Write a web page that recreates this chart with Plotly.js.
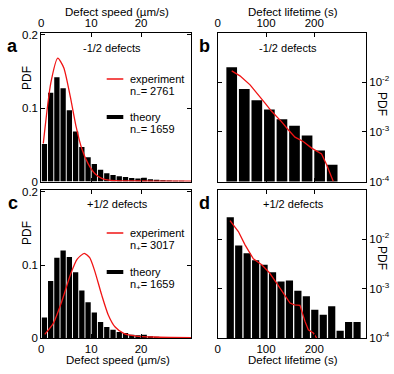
<!DOCTYPE html>
<html>
<head>
<meta charset="utf-8">
<script src="https://cdn.plot.ly/plotly-3.0.1.min.js"></script>
<style>
  body { margin: 0; background: #fff; }
  #chart { width: 394px; height: 374px; }
</style>
</head>
<body>
<div id="chart"></div>
<script>
// speed histograms (bin width 1.25 um/s)
var speedBins = [0.625, 1.875, 3.125, 4.375, 5.625, 6.875, 8.125, 9.375, 10.625, 11.875,
                 13.125, 14.375, 15.625, 16.875, 18.125, 19.375, 20.625, 21.875, 23.125, 24.375,
                 25.625, 26.875, 28.125, 29.375];
var theoryMinusSpeed = [0.051, 0.121, 0.142, 0.127, 0.097, 0.068, 0.047, 0.033, 0.024, 0.016,
                        0.0114, 0.009, 0.0073, 0.006, 0.0046, 0.004, 0.005, 0.0032, 0.0023, 0.0018,
                        0.0014, 0.001, 0.001, 0.0005];
var theoryPlusSpeed = [0.028, 0.078, 0.11, 0.12, 0.111, 0.09, 0.065, 0.049, 0.035, 0.022,
                       0.015, 0.0112, 0.0082, 0.0068, 0.0046, 0.0037, 0.0046, 0.0023, 0.0018, 0.0014,
                       0.001, 0.0008, 0.0006, 0.0004];

var expMinusSpeedX = [0.4, 1.9, 3.3, 4.5, 5.8, 7.0, 8.1, 9.4, 10.7, 12.2, 13.9, 16, 20, 25, 30];
var expMinusSpeedY = [0.052, 0.134, 0.168, 0.155, 0.116, 0.074, 0.045, 0.024, 0.011, 0.004,
                      0.0015, 0.0009, 0.0007, 0.0005, 0.0004];
var expPlusSpeedX = [0.7, 2.4, 4.1, 5.9, 7.2, 8.6, 9.7, 10.7, 12.1, 13.4, 14.8, 16.6, 19, 22.4, 26, 30];
var expPlusSpeedY = [0.005, 0.02, 0.05, 0.088, 0.108, 0.116, 0.11, 0.092, 0.059, 0.032,
                     0.015, 0.006, 0.0027, 0.0014, 0.0009, 0.0006];

// lifetime histograms
var lifeMinusBins = [29, 55, 81, 107, 133, 159, 185, 211, 237];
var theoryMinusLife = [0.020, 0.0073, 0.0043, 0.0028, 0.0018, 0.00132, 0.00084, 0.00042, 0.000217];
var lifePlusBins = [26, 43.5, 61, 78.5, 96, 113.5, 131, 148.5, 166, 183.5, 201, 218.5, 236, 253.5, 271, 288.5];
var theoryPlusLife = [0.0278, 0.00745, 0.0052, 0.00377, 0.00303, 0.00215, 0.0014, 0.00146, 0.0009, 0.0007,
                      0.000373, 0.000296, 0.000437, 0.000141, 0.00021, 0.00021];

var expMinusLifeX = [29, 46, 67, 85.5, 98, 112, 132, 146, 160, 177, 194.5, 215, 225.5, 239.3];
var expMinusLifeY = [0.0169, 0.0134, 0.00884, 0.00514, 0.00377, 0.00256, 0.00161, 0.0011, 0.00078,
                     0.00064, 0.00047, 0.00036, 0.000217, 0.0001];
var expPlusLifeX = [25.5, 42.8, 56.6, 73.8, 91, 106.2, 122, 135.9, 149.7, 158.6, 170.3, 180.7, 187.6, 197.9, 204.8];
var expPlusLifeY = [0.0238, 0.0143, 0.00769, 0.00401, 0.00303, 0.00215, 0.00129, 0.00081, 0.00051,
                    0.00047, 0.000457, 0.000217, 0.000147, 0.000126, 0.0001];

var speedTicks = [0, 10, 20];
var lifeTicks = [0, 100, 200];
var pdfTicks = [0, 0.1, 0.2];
var pdfTickText = ["0", "0.1", "0.2"];
var logTicks = [1e-4, 1e-3, 1e-2];
var logTickText = ["10<sup>-4</sup>", "10<sup>-3</sup>", "10<sup>-2</sup>"];

var W = 394, H = 374;
function px(x) { return x / W; }
function py(y) { return 1 - y / H; }

var red = "#f01414";
var FONT = "Arial, 'Liberation Sans', Helvetica, sans-serif";

var data = [
  {type: "bar", x: speedBins, y: theoryMinusSpeed, xaxis: "x", yaxis: "y", marker: {color: "black"}},
  {type: "scatter", mode: "lines", x: expMinusSpeedX, y: expMinusSpeedY, xaxis: "x", yaxis: "y",
   line: {color: red, width: 1.3, shape: "spline", smoothing: 0.6}},
  {type: "bar", x: lifeMinusBins, y: theoryMinusLife, xaxis: "x2", yaxis: "y2", marker: {color: "black"}},
  {type: "scatter", mode: "lines", x: expMinusLifeX, y: expMinusLifeY, xaxis: "x2", yaxis: "y2",
   line: {color: red, width: 1.3}},
  {type: "bar", x: speedBins, y: theoryPlusSpeed, xaxis: "x3", yaxis: "y3", marker: {color: "black"}},
  {type: "scatter", mode: "lines", x: expPlusSpeedX, y: expPlusSpeedY, xaxis: "x3", yaxis: "y3",
   line: {color: red, width: 1.3, shape: "spline", smoothing: 0.6}},
  {type: "bar", x: lifePlusBins, y: theoryPlusLife, xaxis: "x4", yaxis: "y4", marker: {color: "black"}},
  {type: "scatter", mode: "lines", x: expPlusLifeX, y: expPlusLifeY, xaxis: "x4", yaxis: "y4",
   line: {color: red, width: 1.3}}
];

var axisBase = {
  showline: true, linecolor: "black", linewidth: 1, mirror: "ticks",
  ticks: "inside", ticklen: 4, tickcolor: "black", tickwidth: 1,
  showgrid: false, zeroline: false, fixedrange: true,
  tickfont: {family: FONT, size: 11.5, color: "black"}
};
function ax(extra) { return Object.assign({}, axisBase, extra); }

var leftX = [px(41.3), px(191)];
var rightX = [px(217.7), px(366)];
var topY = [py(181.5), py(32.5)];
var botY = [py(338), py(189.8)];

var layout = {
  width: W, height: H,
  margin: {l: 0, r: 0, t: 0, b: 0},
  paper_bgcolor: "white", plot_bgcolor: "white",
  showlegend: false,
  bargap: 0.15,
  font: {family: FONT, size: 11, color: "black"},
  xaxis: ax({domain: leftX, anchor: "y", side: "top", range: [0, 30], tickvals: speedTicks}),
  yaxis: ax({domain: topY, anchor: "x", range: [0, 0.203], tickvals: pdfTicks, ticktext: pdfTickText}),
  xaxis2: ax({domain: rightX, anchor: "y2", side: "top", range: [0, 307], tickvals: lifeTicks}),
  yaxis2: ax({domain: topY, anchor: "x2", side: "right", type: "log", range: [-4, -1],
              tickvals: logTicks, ticktext: logTickText}),
  xaxis3: ax({domain: leftX, anchor: "y3", range: [0, 30], tickvals: speedTicks}),
  yaxis3: ax({domain: botY, anchor: "x3", range: [0, 0.203], tickvals: pdfTicks, ticktext: pdfTickText}),
  xaxis4: ax({domain: rightX, anchor: "y4", range: [0, 307], tickvals: lifeTicks}),
  yaxis4: ax({domain: botY, anchor: "x4", side: "right", type: "log", range: [-4, -1],
              tickvals: logTicks, ticktext: logTickText}),
  shapes: [],
  annotations: []
};

function note(text, x, y, opts) {
  var o = Object.assign({
    text: text, x: px(x), y: py(y), xref: "paper", yref: "paper",
    showarrow: false, xanchor: "center", yanchor: "middle"
  }, opts || {});
  o.font = Object.assign({family: FONT, size: 11, color: "black"}, (opts && opts.font) || {});
  layout.annotations.push(o);
}

// panel letters
note("<b>a</b>", 12.5, 46, {font: {size: 18}});
note("<b>b</b>", 205, 46, {font: {size: 18}});
note("<b>c</b>", 12.5, 203, {font: {size: 18}});
note("<b>d</b>", 205, 203, {font: {size: 18}});

// axis titles
note("Defect speed (µm/s)", 117, 12, {font: {size: 11.5}});
note("Defect lifetime (s)", 293, 12, {font: {size: 11.5}});
note("Defect speed (µm/s)", 118, 360, {font: {size: 11.5}});
note("Defect lifetime (s)", 293, 360, {font: {size: 11.5}});
note("PDF", 27, 78, {textangle: -90, font: {size: 12}});
note("PDF", 27, 233, {textangle: -90, font: {size: 12}});
note("PDF", 382, 104, {textangle: 90, font: {size: 12}});
note("PDF", 382, 258, {textangle: 90, font: {size: 12}});

// panel subtitles
note("-1/2 defects", 112, 48, {font: {size: 11}});
note("-1/2 defects", 288, 48, {font: {size: 11}});
note("+1/2 defects", 117, 204, {font: {size: 11}});
note("+1/2 defects", 293, 204, {font: {size: 11}});

// legends
function legend(yExp, nExp, yTh, nTh) {
  layout.shapes.push({type: "line", xref: "paper", yref: "paper",
    x0: px(106.7), x1: px(123.3), y0: py(yExp), y1: py(yExp), line: {color: red, width: 1.5}});
  layout.shapes.push({type: "line", xref: "paper", yref: "paper",
    x0: px(106.7), x1: px(123.3), y0: py(yTh), y1: py(yTh), line: {color: "black", width: 4}});
  var o = {xanchor: "left", font: {size: 11}};
  note("experiment", 127.5, yExp, o);
  note(nExp, 127.5, yExp + 13, o);
  note("theory", 127.5, yTh, o);
  note(nTh, 127.5, yTh + 13, o);
}
legend(79, "n<sub>−</sub>= 2761", 117, "n<sub>−</sub>= 1659");
legend(233, "n<sub>+</sub>= 3017", 272, "n<sub>+</sub>= 1659");

Plotly.newPlot("chart", data, layout, {staticPlot: true, displayModeBar: false});
</script>
</body>
</html>
